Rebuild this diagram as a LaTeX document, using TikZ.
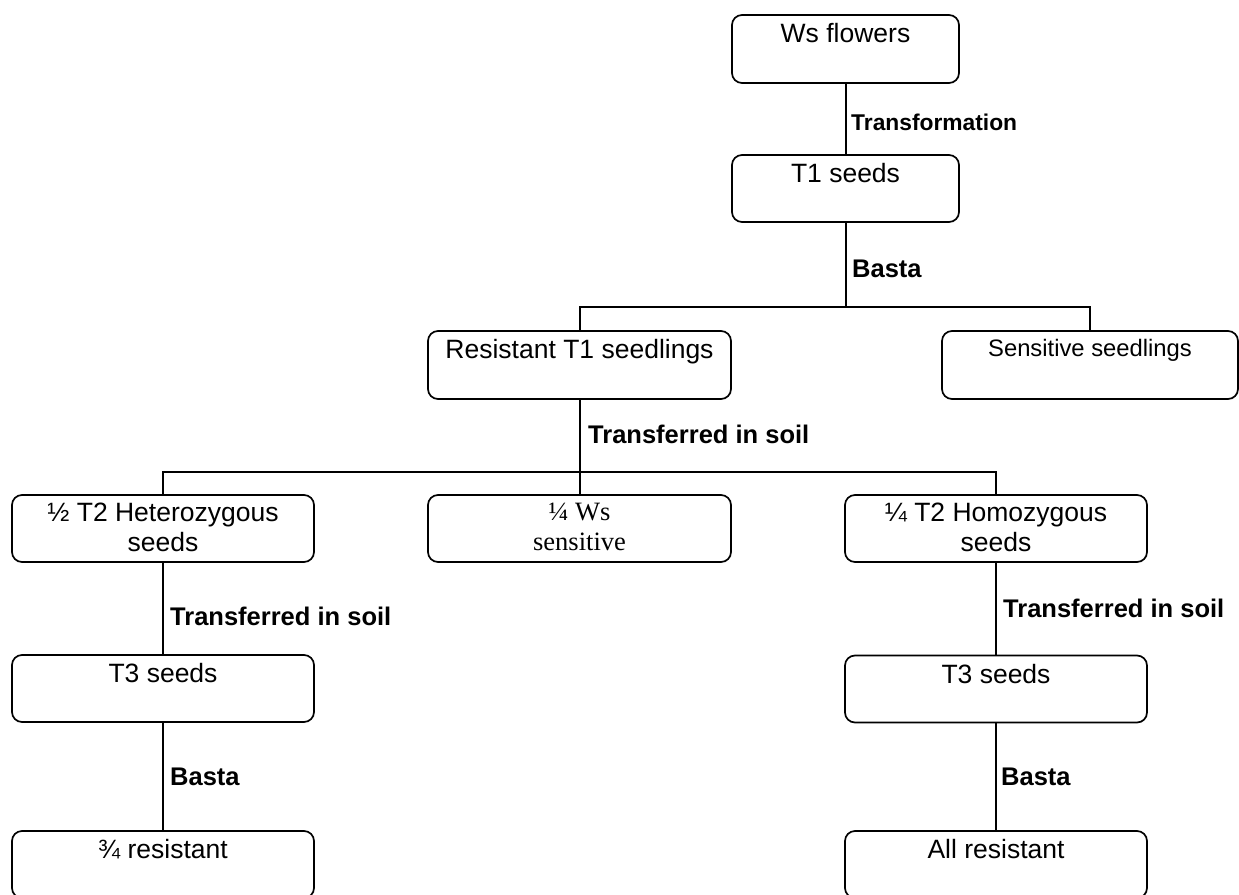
\documentclass[tikz,border=0pt]{standalone}
\usepackage{fontspec}
\setmainfont{Liberation Sans}
\newfontfamily\serifx{Liberation Serif}
\begin{document}
\begin{tikzpicture}[x=1pt,y=-1pt,
  box/.style={draw, line width=1.7pt, rounded corners=10pt, inner sep=0pt, minimum height=67pt},
  txt/.style={anchor=north, inner xsep=0pt, inner ysep=9pt, align=center, font=\fontsize{26.5}{30}\selectfont},
  lab/.style={anchor=base west, inner sep=0pt, font=\fontsize{25.5}{30}\selectfont\bfseries},
  conn/.style={line width=2pt}]
\useasboundingbox (0,0) rectangle (1239,894);
% boxes
\node[box, minimum width=227pt, minimum height=68pt] (wf) at (845.5,49) {};
\node[box, minimum width=227pt] (t1) at (845.5,188.5) {};
\node[box, minimum width=303pt, minimum height=68pt] (rs) at (579.5,365) {};
\node[box, minimum width=296pt, minimum height=68pt] (ss) at (1090,365) {};
\node[box, minimum width=302pt] (he) at (163,528.5) {};
\node[box, minimum width=303pt] (ws) at (579.5,528.5) {};
\node[box, minimum width=302pt] (ho) at (996,528.5) {};
\node[box, minimum width=302pt] (t3a) at (163,688.5) {};
\node[box, minimum width=302pt] (t3b) at (996,689) {};
\node[box, minimum width=302pt] (r34) at (163,864.5) {};
\node[box, minimum width=302pt] (allr) at (996,864.5) {};
% texts
\node[txt] (wft) at (wf.north) {Ws flowers};
\node[txt] (t1t) at (t1.north) {T1 seeds};
\node[txt] (rst) at (rs.north) {Resistant T1 seedlings};
\node[txt, font=\fontsize{23.8}{28}\selectfont] (sst) at (ss.north) {Sensitive seedlings};
\node[txt] (het) at (he.north) {½ T2 Heterozygous\\seeds};
\node[txt, font=\serifx\fontsize{26.5}{30}\selectfont] (wst) at (ws.north) {¼ Ws\\sensitive};
\node[txt] (hot) at (ho.north) {¼ T2 Homozygous\\seeds};
\node[txt] (t3at) at (t3a.north) {T3 seeds};
\node[txt] (t3bt) at (t3b.north) {T3 seeds};
\node[txt] (r34t) at (r34.north) {¾ resistant};
\node[txt] (allrt) at (allr.north) {All resistant};
% connectors
\coordinate (j1) at (845.5,307);
\coordinate (j2) at (579.5,472);
\draw[conn] (wf.south) -- (t1.north);
\draw[conn] (t1.south) -- (j1);
\draw[conn] (rs.north) |- (j1) -| (ss.north);
\draw[conn] (rs.south) -- (j2);
\draw[conn] (he.north) |- (j2) -| (ho.north);
\draw[conn] (j2) -- (ws.north);
\draw[conn] (he.south) -- (t3a.north);
\draw[conn] (t3a.south) -- (r34.north);
\draw[conn] (ho.south) -- (t3b.north);
\draw[conn] (t3b.south) -- (allr.north);
% labels
\node[lab, font=\fontsize{22.8}{28}\selectfont\bfseries] (l1) at (851,130) {Transformation};
\node[lab] (l2) at (852,277) {Basta};
\node[lab] (l3) at (588,443) {Transferred in soil};
\node[lab] (l4) at (170,625) {Transferred in soil};
\node[lab] (l5) at (1003,617) {Transferred in soil};
\node[lab] (l6) at (170,785) {Basta};
\node[lab] (l7) at (1001,785) {Basta};
\end{tikzpicture}
\end{document}
